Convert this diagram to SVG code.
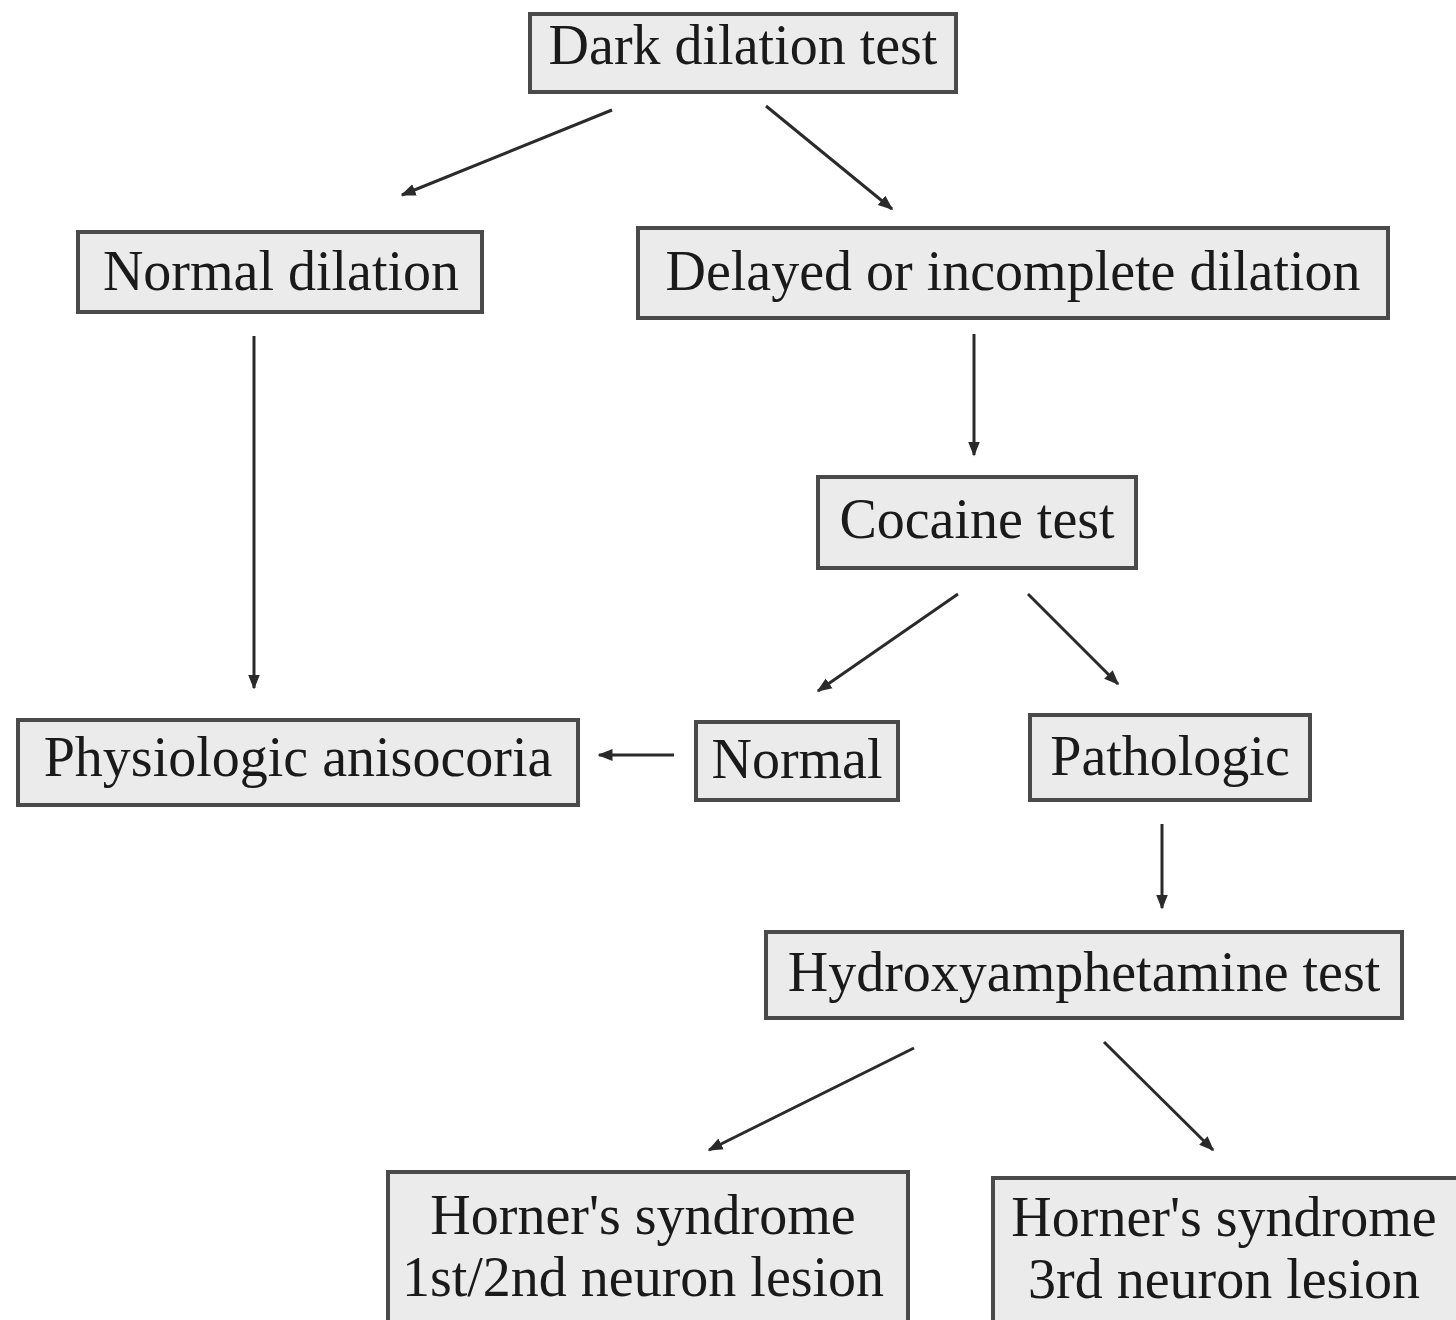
<svg xmlns="http://www.w3.org/2000/svg" width="1456" height="1320" viewBox="0 0 1456 1320">
<style>
.box{fill:#ebebeb;stroke:#4a4a4a;stroke-width:4}
.t{font-family:"Liberation Serif","Times New Roman",serif;font-size:56px;fill:#1a1a1a;text-anchor:middle}
.c{stroke:#2a2a2a;stroke-width:3;fill:none;marker-end:url(#ah)}
</style>
<defs>
<marker id="ah" viewBox="0 0 10 10" refX="9" refY="5" markerWidth="5" markerHeight="5" markerUnits="strokeWidth" orient="auto">
<path d="M0,1 L10,5 L0,9 z" fill="#2a2a2a"/>
</marker>
</defs>
<rect width="1456" height="1320" fill="#ffffff"/>
<g id="connectors">
<line class="c" x1="612" y1="110" x2="402" y2="195"/>
<line class="c" x1="766" y1="106" x2="892" y2="209"/>
<line class="c" x1="254" y1="336" x2="254" y2="688"/>
<line class="c" x1="974" y1="334" x2="974" y2="455"/>
<line class="c" x1="958" y1="594" x2="818" y2="691"/>
<line class="c" x1="1028" y1="594" x2="1118" y2="684"/>
<line class="c" x1="674" y1="755" x2="599" y2="755"/>
<line class="c" x1="1162" y1="824" x2="1162" y2="908"/>
<line class="c" x1="914" y1="1048" x2="709" y2="1150"/>
<line class="c" x1="1104" y1="1042" x2="1213" y2="1150"/>
</g>
<g id="n-dark">
<rect class="box" x="530" y="14" width="426" height="78"/>
<text class="t" x="743" y="64">Dark dilation test</text>
</g>
<g id="n-normal-dilation">
<rect class="box" x="78" y="232" width="404" height="80"/>
<text class="t" x="281" y="290">Normal dilation</text>
</g>
<g id="n-delayed">
<rect class="box" x="638" y="228" width="750" height="90"/>
<text class="t" x="1013" y="290">Delayed or incomplete dilation</text>
</g>
<g id="n-cocaine">
<rect class="box" x="818" y="477" width="318" height="91"/>
<text class="t" x="977" y="538">Cocaine test</text>
</g>
<g id="n-physiologic">
<rect class="box" x="18" y="720" width="560" height="85"/>
<text class="t" x="298" y="776">Physiologic anisocoria</text>
</g>
<g id="n-normal">
<rect class="box" x="696" y="722" width="202" height="78"/>
<text class="t" x="797" y="778">Normal</text>
</g>
<g id="n-pathologic">
<rect class="box" x="1030" y="715" width="280" height="85"/>
<text class="t" x="1170" y="775">Pathologic</text>
</g>
<g id="n-hydroxy">
<rect class="box" x="766" y="932" width="636" height="86"/>
<text class="t" x="1084" y="991">Hydroxyamphetamine test</text>
</g>
<g id="n-horner12">
<rect class="box" x="388" y="1172" width="520" height="152"/>
<text class="t" x="643" y="1234">Horner's syndrome</text>
<text class="t" x="643" y="1296">1st/2nd neuron lesion</text>
</g>
<g id="n-horner3">
<rect class="box" x="993" y="1178" width="467" height="146"/>
<text class="t" x="1224" y="1236">Horner's syndrome</text>
<text class="t" x="1224" y="1298">3rd neuron lesion</text>
</g>
</svg>
